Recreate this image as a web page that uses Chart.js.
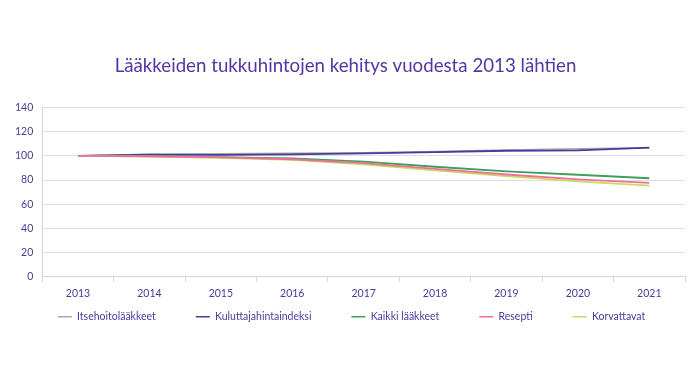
<!DOCTYPE html>
<html>
<head>
<meta charset="utf-8">
<script src="https://cdn.jsdelivr.net/npm/chart.js@4/dist/chart.umd.min.js"></script>
<style>
html,body{margin:0;padding:0;background:#fff;}
#wrap{width:699px;height:365px;}
</style>
</head>
<body>
<div id="wrap"><canvas id="c" width="699" height="365"></canvas></div>
<script>
const years = ["2013","2014","2015","2016","2017","2018","2019","2020","2021"];
const itsehoito = [100, 101.3, 101.7, 102.0, 102.5, 103.5, 104.8, 105.8, 106.6];
const kuluttajahinta = [100, 101.0, 100.8, 101.2, 102.0, 103.1, 104.2, 104.5, 106.8];
const kaikki = [100, 99.7, 99.0, 98.0, 95.2, 91.0, 87.2, 84.4, 81.5];
const resepti = [100, 99.5, 98.7, 97.2, 94.0, 89.2, 84.6, 80.6, 77.6];
const korvattavat = [100, 99.3, 98.4, 96.6, 93.0, 88.0, 83.2, 79.0, 75.4];
const seriesNames = ["Itsehoitolääkkeet","Kuluttajahintaindeksi","Kaikki lääkkeet","Resepti","Korvattavat"];
const yTicks = [0,20,40,60,80,100,120,140];
const titleText = "Lääkkeiden tukkuhintojen kehitys vuodesta 2013 lähtien";

const colors = ["#a9a9ab","#4a3b9a","#3f9e5a","#ef6f9b","#c6dc5e"];
const seriesData = [itsehoito, kuluttajahinta, kaikki, resepti, korvattavat];
const order = [4,3,2,0,1];
const datasets = seriesNames.map((n,i)=>({
  label:n, data:seriesData[i], borderColor:colors[i], backgroundColor:colors[i],
  borderWidth:1.8, pointRadius:0, tension:0, fill:false, order:order[i]
}));

const LEG_PAD = 40;
const legendShift = {
  id:'legendShift',
  beforeDraw(chart){
    const lg = chart.legend;
    if (lg && !lg._shifted){
      lg.top -= 33; lg.bottom -= 33;
      lg.left += 6; lg.right += 6;
      lg._shifted = true;
    }
  }
};

new Chart(document.getElementById('c'), {
  type:'line',
  data:{labels:years, datasets},
  plugins:[legendShift],
  options:{
    responsive:false, animation:false,
    layout:{padding:{left:6,right:14,top:0,bottom:0}},
    plugins:{
      title:{display:true,text:titleText,color:'#5436a3',
        font:{family:'Lato',size:18.7,weight:'normal'},padding:{top:55,bottom:30}},
      legend:{position:'bottom',
        labels:{boxWidth:14,boxHeight:1.5,padding:LEG_PAD,color:'#4a3b9a',
          font:{family:'Lato',size:10.5},
          generateLabels:(chart)=>chart.data.datasets.map((d,i)=>({text:d.label,fillStyle:d.borderColor,strokeStyle:d.borderColor,lineWidth:0,datasetIndex:i,hidden:false,fontColor:'#4a3b9a'}))}},
      tooltip:{enabled:false}
    },
    scales:{
      x:{offset:true,
        grid:{offset:true,drawOnChartArea:false,drawTicks:true,tickLength:5,color:'#d6d5e6'},
        border:{color:'#d6d5e6'},
        ticks:{color:'#4a3b9a',font:{family:'Lato',size:10.5},padding:5}},
      y:{min:0,max:140,
        afterBuildTicks:(s)=>{s.ticks=yTicks.map(v=>({value:v}));},
        grid:{color:'#dcdbea',lineWidth:1,drawTicks:false},
        border:{color:'#d6d5e6'},
        ticks:{color:'#4a3b9a',font:{family:'Lato',size:10.5},padding:9,autoSkip:false}}
    }
  }
});
</script>
</body>
</html>
